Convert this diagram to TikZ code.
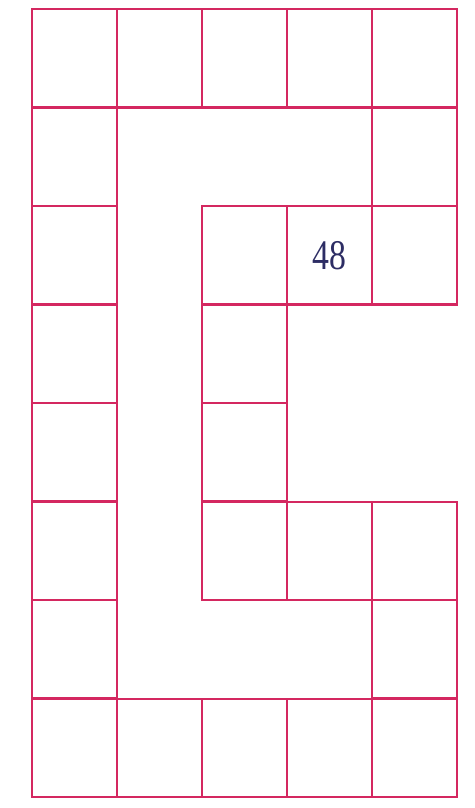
\documentclass[tikz,border=0pt]{standalone}
\usepackage{tikz}
\usepackage{fontspec}
\setmainfont{Liberation Serif}
\definecolor{gridred}{RGB}{212,40,96}
\definecolor{numblue}{RGB}{45,45,100}

\begin{document}
\begin{tikzpicture}[
    x=0.02cm, y=-0.02cm,
    cell/.style={rectangle, draw=gridred, line width=1.4pt, minimum width=1.7cm, minimum height=1.97cm, inner sep=0pt, anchor=north west},
    num/.style={font=\fontsize{24}{26}\selectfont, text=numblue}
]
\useasboundingbox (0,0) rectangle (475,808);

% Cells, column/row
\foreach \c/\r in {0/0,1/0,2/0,3/0,4/0,
                   0/1,4/1,
                   0/2,2/2,3/2,4/2,
                   0/3,2/3,
                   0/4,2/4,
                   0/5,2/5,3/5,4/5,
                   0/6,4/6,
                   0/7,1/7,2/7,3/7,4/7}
  \node[cell] (c\c\r) at (31+85*\c, 8+98.5*\r) {};

% Number
\node[num] (n48) at (c32.center) {\scalebox{0.8}[1]{48}};

\end{tikzpicture}
\end{document}
